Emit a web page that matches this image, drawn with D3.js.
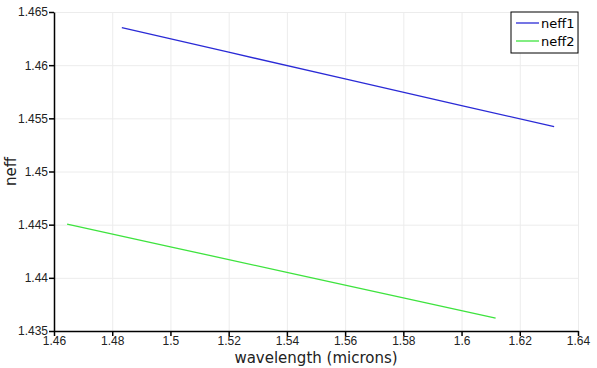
<!DOCTYPE html>
<html>
<head>
<meta charset="utf-8">
<script src="https://cdn.jsdelivr.net/npm/d3@7"></script>
<style>
  body { margin: 0; background: #fff; }
  svg { display: block; font-family: "DejaVu Sans", sans-serif; }
  .grid line { stroke: #ececec; stroke-width: 1; }
  .grid path { display: none; }
  .axis path, .axis line { stroke: #000; stroke-width: 1.5; }
  .axis text { fill: #222; font-size: 12px; }
  .label { fill: #222; font-size: 15px; }
  .legend text { fill: #000; font-size: 13px; }
</style>
</head>
<body>
<svg id="chart" width="597" height="368"></svg>
<script>
// wavelength (microns) and effective index for both modes
const wl1 = [1.4833, 1.52, 1.56, 1.60, 1.6318];
const neff1 = [1.46352, 1.46122, 1.45871, 1.45620, 1.45421];
const wl2 = [1.4645, 1.50, 1.54, 1.58, 1.6117];
const neff2 = [1.44506, 1.44292, 1.44051, 1.43811, 1.43620];

const xTicks = [1.46, 1.48, 1.5, 1.52, 1.54, 1.56, 1.58, 1.6, 1.62, 1.64];
const yTicks = [1.435, 1.44, 1.445, 1.45, 1.455, 1.46, 1.465];

const seriesNames = ['neff1', 'neff2'];
const seriesColors = ['#2a2ad6', '#3ee33e'];

const svg = d3.select('#chart');
const plotLeft = 54, plotRight = 578, plotTop = 12, plotBottom = 331;
const width = plotRight - plotLeft;
const height = plotBottom - plotTop;

const xScale = d3.scaleLinear().domain([1.46, 1.64]).range([0, width]);
const yScale = d3.scaleLinear().domain([1.435, 1.465]).range([height, 0]);

const chart = svg.append('g')
    .attr('transform', `translate(${plotLeft}, ${plotTop})`);

// grid
chart.append('g')
    .attr('class', 'grid')
    .call(d3.axisLeft(yScale).tickValues(yTicks).tickSize(-width).tickFormat(''));
chart.append('g')
    .attr('class', 'grid')
    .attr('transform', `translate(0,${height})`)
    .call(d3.axisBottom(xScale).tickValues(xTicks).tickSize(-height).tickFormat(''));

// lines
const series = [
    wl1.map((x, i) => ({x: x, y: neff1[i]})),
    wl2.map((x, i) => ({x: x, y: neff2[i]}))
];
const line = d3.line().x(d => xScale(d.x)).y(d => yScale(d.y));
series.forEach((s, i) => {
    chart.append('path')
        .datum(s)
        .attr('fill', 'none')
        .attr('stroke', seriesColors[i])
        .attr('stroke-width', 1.3)
        .attr('d', line);
});

// axes
chart.append('g')
    .attr('class', 'axis')
    .attr('transform', `translate(0,${height})`)
    .call(d3.axisBottom(xScale).tickValues(xTicks).tickSize(5).tickSizeOuter(0)
        .tickFormat(d3.format('')))
    .call(g => g.selectAll('text').attr('y', 5));

chart.append('g')
    .attr('class', 'axis')
    .call(d3.axisLeft(yScale).tickValues(yTicks).tickSize(5).tickSizeOuter(0)
        .tickFormat(d3.format('')))
    .call(g => g.selectAll('text').attr('x', -6));

// axis titles
svg.append('text')
    .attr('class', 'label')
    .attr('x', 316)
    .attr('y', 363)
    .attr('text-anchor', 'middle')
    .text('wavelength (microns)');

svg.append('text')
    .attr('class', 'label')
    .attr('transform', `translate(16, ${(plotTop + plotBottom) / 2}) rotate(-90)`)
    .attr('text-anchor', 'middle')
    .text('neff');

// legend
const legend = svg.append('g')
    .attr('class', 'legend')
    .attr('transform', 'translate(511, 12)');
legend.append('rect')
    .attr('width', 67)
    .attr('height', 41)
    .attr('fill', '#fff')
    .attr('stroke', '#000')
    .attr('stroke-width', 1);
seriesNames.forEach((name, i) => {
    const y = 11 + i * 18;
    legend.append('line')
        .attr('x1', 5).attr('x2', 28)
        .attr('y1', y).attr('y2', y)
        .attr('stroke', seriesColors[i])
        .attr('stroke-width', 1.3);
    legend.append('text')
        .attr('x', 30)
        .attr('y', y + 4.5)
        .text(name);
});
</script>
</body>
</html>
